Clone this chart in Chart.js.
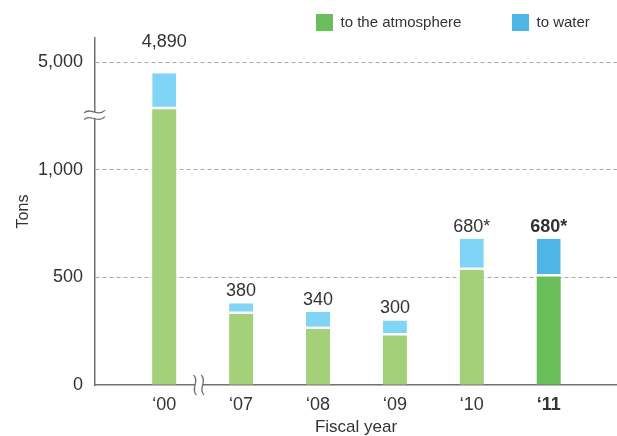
<!DOCTYPE html>
<html>
<head>
<meta charset="utf-8">
<title>Emissions by fiscal year</title>
<script src="https://cdn.jsdelivr.net/npm/chart.js@4.4.1/dist/chart.umd.min.js"></script>
<style>
  html, body { margin: 0; padding: 0; background: #ffffff; }
  #wrap { width: 617px; height: 436px; position: relative; }
</style>
</head>
<body>
<div id="wrap"><canvas id="chart" width="617" height="436"></canvas></div>
<script>
// ---- data ----
const fiscalYears  = ['\u201800', '\u201807', '\u201808', '\u201809', '\u201810', '\u201811'];
const toAtmosphere = [4520, 330, 260, 230, 535, 505];
const toWater      = [370, 50, 80, 70, 145, 175];
const totalNotes   = ['', '', '', '', '*', '*'];
const seriesNames  = ['to the atmosphere', 'to water'];
const yTickValues  = [0, 500, 1000, 5000];

// broken value axis: value anchors and their positions in tick steps
const breakValues = [0, 1250, 4450, 5000];
const breakSteps  = [0, 2.5, 2.5, 3];
const Y_MAX = 5250;
const X_BREAK = 0.45;           // between the first and second fiscal year
const CURRENT = fiscalYears.length - 1;

const FONT = "'Liberation Sans', Arial, Helvetica, sans-serif";
const TEXT = '#333333';
const AXIS = '#707070';
const COLORS = {
  atmosphere: { light: '#a4d07a', dark: '#6bbe5c' },
  water:      { light: '#80d4f6', dark: '#4fb4e6' }
};

// ---- broken linear scale ----
function toSteps(v) {
  const n = breakValues.length;
  for (let i = 0; i < n - 1; i++) {
    if (v <= breakValues[i + 1]) {
      const t = (v - breakValues[i]) / (breakValues[i + 1] - breakValues[i]);
      return breakSteps[i] + t * (breakSteps[i + 1] - breakSteps[i]);
    }
  }
  const slope = (breakSteps[n - 1] - breakSteps[n - 2]) / (breakValues[n - 1] - breakValues[n - 2]);
  return breakSteps[n - 1] + (v - breakValues[n - 1]) * slope;
}
function fromSteps(s) {
  const n = breakValues.length;
  for (let i = 0; i < n - 1; i++) {
    const a = breakSteps[i], b = breakSteps[i + 1];
    if (b > a && s <= b) {
      return breakValues[i] + (s - a) / (b - a) * (breakValues[i + 1] - breakValues[i]);
    }
  }
  const slope = (breakValues[n - 1] - breakValues[n - 2]) / (breakSteps[n - 1] - breakSteps[n - 2]);
  return breakValues[n - 1] + (s - breakSteps[n - 1]) * slope;
}

class BrokenLinearScale extends Chart.LinearScale {
  determineDataLimits() {
    this.min = 0;
    this.max = this.options.max;
  }
  buildTicks() {
    return yTickValues.map(v => ({ value: v }));
  }
  getPixelForValue(value) {
    return this.getPixelForDecimal(toSteps(value) / toSteps(this.max));
  }
  getValueForPixel(pixel) {
    return fromSteps(this.getDecimalForPixel(pixel) * toSteps(this.max));
  }
}
BrokenLinearScale.id = 'brokenLinear';
BrokenLinearScale.defaults = Chart.LinearScale.defaults;
Chart.register(BrokenLinearScale);

// ---- plugins ----
const valueLabels = {
  id: 'valueLabels',
  afterDatasetsDraw(chart) {
    const { ctx, chartArea } = chart;
    const xs = chart.scales.x, ys = chart.scales.y;
    ctx.save();
    ctx.fillStyle = TEXT;
    ctx.textAlign = 'center';
    ctx.textBaseline = 'middle';
    fiscalYears.forEach((_, i) => {
      const total = toAtmosphere[i] + toWater[i];
      const x = xs.getPixelForValue(i);
      const top = ys.getPixelForValue(total);
      const y = total > breakValues[1] ? chartArea.top + 4.5 : top - 12;
      ctx.font = (i === CURRENT ? 'bold ' : '') + '18px ' + FONT;
      ctx.fillText(total.toLocaleString('en-US') + totalNotes[i], x, y);
    });
    ctx.restore();
  }
};

const axisBreaks = {
  id: 'axisBreaks',
  afterDraw(chart) {
    const { ctx, chartArea } = chart;
    const xs = chart.scales.x, ys = chart.scales.y;
    ctx.save();
    ctx.strokeStyle = AXIS;
    ctx.lineWidth = 1.2;

    // break on the value axis
    const ax = chartArea.left;
    const yb = ys.getPixelForValue(breakValues[1]) - 1.3;
    ctx.fillStyle = '#ffffff';
    ctx.fillRect(ax - 3, yb - 3, 6, 6);
    [-3.3, 3.3].forEach(d => {
      const y = yb + d;
      ctx.beginPath();
      ctx.moveTo(ax - 11, y + 1.5);
      ctx.bezierCurveTo(ax - 5, y - 5, ax + 3, y + 6, ax + 10, y - 1.5);
      ctx.stroke();
    });

    // break on the category axis
    const xb = xs.getPixelForValue(X_BREAK);
    const by = chartArea.bottom;
    ctx.fillStyle = '#ffffff';
    ctx.fillRect(xb - 3.5, by - 2, 7, 4);
    [-3.8, 3.8].forEach(d => {
      const x = xb + d;
      ctx.beginPath();
      ctx.moveTo(x - 1.5, by - 10);
      ctx.bezierCurveTo(x + 5, by - 4, x - 5, by + 4, x + 1.5, by + 10);
      ctx.stroke();
    });
    ctx.restore();
  }
};

const topLegend = {
  id: 'topLegend',
  afterDraw(chart) {
    const { ctx } = chart;
    const slots = [316, 512];
    const swatches = [COLORS.atmosphere.dark, COLORS.water.dark];
    ctx.save();
    ctx.font = '15px ' + FONT;
    ctx.textBaseline = 'middle';
    ctx.textAlign = 'left';
    chart.data.datasets.forEach((ds, i) => {
      const x = slots[i];
      ctx.fillStyle = swatches[i];
      ctx.fillRect(x, 14, 17, 17);
      ctx.fillStyle = TEXT;
      ctx.fillText(ds.label, x + 24.5, 23);
    });
    ctx.restore();
  }
};

// ---- chart ----
const pick = (pair) => (c) => c.dataIndex === CURRENT ? pair.dark : pair.light;

new Chart(document.getElementById('chart'), {
  type: 'bar',
  data: {
    datasets: [
      {
        label: seriesNames[0],
        data: toAtmosphere.map((v, i) => ({ x: i, y: v })),
        backgroundColor: pick(COLORS.atmosphere),
        borderWidth: 0,
        inflateAmount: 0,
        barPercentage: 0.312,
        categoryPercentage: 1
      },
      {
        label: seriesNames[1],
        data: toWater.map((v, i) => ({ x: i, y: v })),
        backgroundColor: pick(COLORS.water),
        borderColor: '#ffffff',
        borderWidth: { top: 0, right: 0, bottom: 2.5, left: 0 },
        borderSkipped: false,
        inflateAmount: 0,
        barPercentage: 0.312,
        categoryPercentage: 1
      }
    ]
  },
  options: {
    responsive: false,
    animation: false,
    devicePixelRatio: 1,
    layout: { padding: { top: 38, left: 0, right: 0, bottom: 0 } },
    plugins: {
      legend: { display: false },
      tooltip: { enabled: false }
    },
    scales: {
      x: {
        type: 'linear',
        stacked: true,
        offset: false,
        min: -0.9,
        max: 5.888,
        z: 1,
        afterBuildTicks(scale) {
          scale.ticks = fiscalYears.map((_, i) => ({ value: i }));
        },
        afterFit(scale) { scale.height = 51; },
        grid: { display: false, drawTicks: false, offset: false },
        border: { display: true, color: AXIS, width: 1.5 },
        ticks: {
          autoSkip: false,
          maxRotation: 0,
          padding: 9,
          color: TEXT,
          font: (c) => ({
            family: FONT,
            size: 18,
            weight: c.tick && c.tick.value === CURRENT ? 'bold' : 'normal'
          }),
          callback: (v) => fiscalYears[v] ?? ''
        },
        title: {
          display: true,
          text: 'Fiscal year',
          color: TEXT,
          font: { family: FONT, size: 17, lineHeight: 1 },
          padding: { top: 0, bottom: 0 }
        }
      },
      y: {
        type: 'brokenLinear',
        stacked: true,
        max: Y_MAX,
        afterFit(scale) { scale.width = 95; },
        grid: {
          drawTicks: false,
          color: (c) => c.tick && c.tick.value === 0 ? 'rgba(0,0,0,0)' : '#ababab',
          lineWidth: 1
        },
        border: { display: true, color: AXIS, width: 1.5, dash: [4, 3], dashOffset: 0 },
        ticks: {
          padding: 12,
          color: TEXT,
          font: { family: FONT, size: 18 },
          callback: (v) => Number(v).toLocaleString('en-US')
        },
        title: {
          display: true,
          text: 'Tons',
          color: TEXT,
          font: { family: FONT, size: 16 },
          padding: { top: 14, bottom: 0 }
        }
      }
    }
  },
  plugins: [valueLabels, axisBreaks, topLegend]
});
</script>
</body>
</html>
